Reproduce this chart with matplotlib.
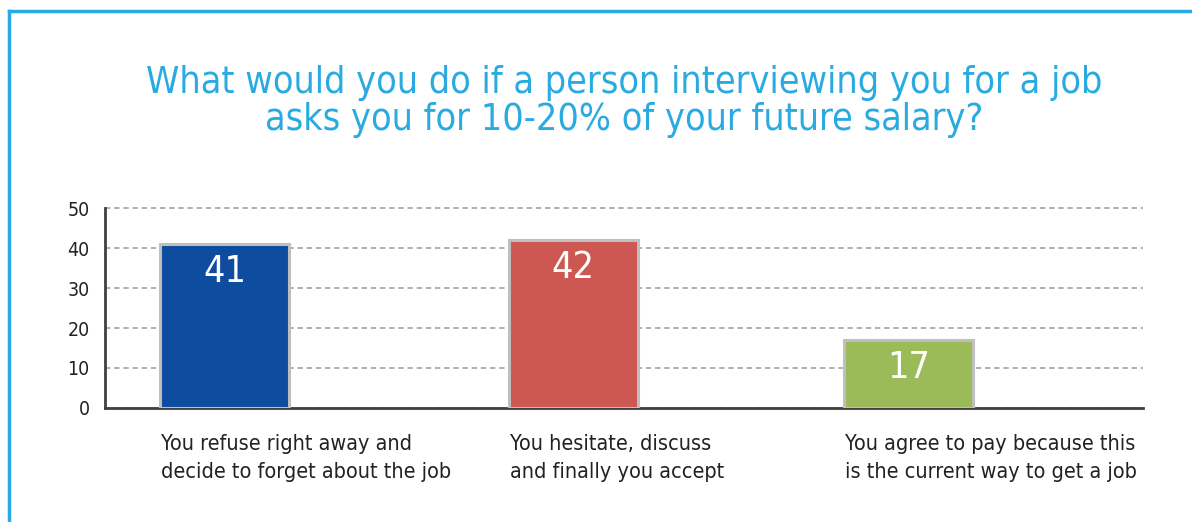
import matplotlib
matplotlib.use("Agg")
import matplotlib.pyplot as plt
from matplotlib.lines import Line2D

# survey answers and shares (%)
answers = [
    "You refuse right away and\ndecide to forget about the job",
    "You hesitate, discuss\nand finally you accept",
    "You agree to pay because this\nis the current way to get a job",
]
shares = [41, 42, 17]
colors = ["#0D4C9F", "#CD5752", "#9BBB59"]
yticks = [0, 10, 20, 30, 40, 50]
title_lines = ["What would you do if a person interviewing you for a job",
               "asks you for 10-20% of your future salary?"]

plt.rcParams["font.family"] = ["DejaVu Sans"]
plt.rcParams["font.stretch"] = "condensed"

fig = plt.figure(figsize=(11.92, 5.22), dpi=100)
ax = fig.add_axes([0.0881, 0.2184, 0.8708, 0.3831])

x = [0, 1.02, 2]
width = 0.377
bars = ax.bar(x, shares, width=width, color=colors, edgecolor="#BFBFBF",
              linewidth=2.2, zorder=3)

for xi, v in zip(x, shares):
    ax.text(xi, v - 2.6, str(v), ha="center", va="top", color="white",
            fontsize=27, zorder=4)

ax.set_ylim(0, 50)
ax.set_xlim(-0.349, 2.686)
ax.set_yticks(yticks)
ax.set_xticks([])
ax.tick_params(axis="y", length=0, pad=11, labelsize=14, labelcolor="#222222")
ax.yaxis.grid(True, linestyle=(0, (3.5, 2.5)), color="#9A9A9A", linewidth=1.1, zorder=0)
for gl in ax.get_ygridlines():
    gl.set_clip_on(False)
ax.set_axisbelow(True)
for side in ["top", "right"]:
    ax.spines[side].set_visible(False)
for side in ["left", "bottom"]:
    ax.spines[side].set_color("#404040")
    ax.spines[side].set_linewidth(2)

# answer text under each bar, left aligned with the bar
for xi, lab in zip(x, answers):
    ax.annotate(lab, xy=(xi - width / 2, 0), xycoords=("data", "axes fraction"),
                xytext=(1, -19), textcoords="offset points", ha="left", va="top",
                fontsize=15.5, color="#222222", linespacing=1.5)

# title in two centered lines
fig.text(0.524, (522 - 93) / 522, title_lines[0], ha="center", va="baseline",
         fontsize=27, color="#29ABE2")
fig.text(0.524, (522 - 130) / 522, title_lines[1], ha="center", va="baseline",
         fontsize=27, color="#29ABE2")

# blue frame (left and top edges)
fig.add_artist(Line2D([9 / 1192, 9 / 1192], [0, 511 / 522], color="#29ABE2",
                      linewidth=2.5, transform=fig.transFigure))
fig.add_artist(Line2D([9 / 1192, 1], [511 / 522, 511 / 522], color="#29ABE2",
                      linewidth=2.5, transform=fig.transFigure))

fig.savefig("out.png", dpi=100)
